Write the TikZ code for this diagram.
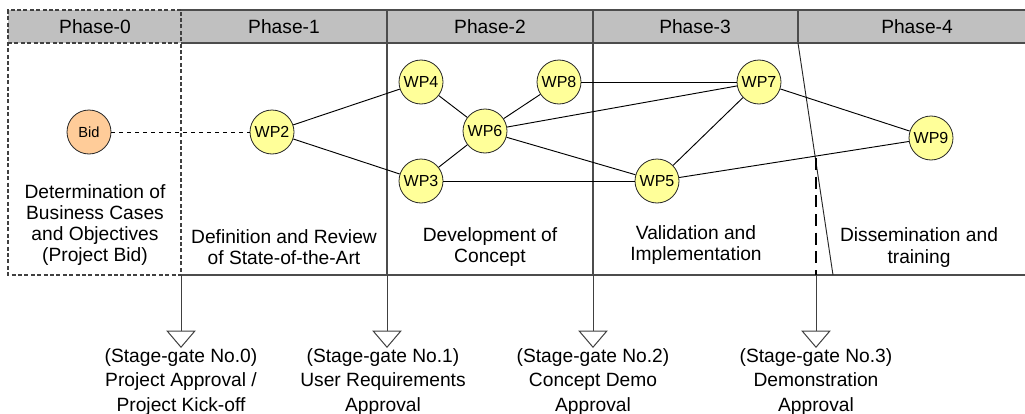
\documentclass[tikz,border=0pt]{standalone}
\usepackage{fontspec}
\setmainfont{Liberation Sans}
\usetikzlibrary{arrows.meta}
\definecolor{hdr}{HTML}{C0C0C0}
\definecolor{wpy}{HTML}{FFFF99}
\definecolor{bido}{HTML}{FFCC99}
\begin{document}
\begin{tikzpicture}[x=0.75pt,y=-0.75pt,
  wp/.style={circle,draw=black!85,line width=0.6pt,fill=wpy,minimum size=33pt,inner sep=0pt,font=\fontsize{12}{12}\selectfont},
  bidnode/.style={wp,fill=bido,font=\fontsize{11}{11}\selectfont},
  link/.style={draw=black,line width=0.7pt},
  lbl/.style={align=center,font=\fontsize{14.4}{15.8}\selectfont},
  gatelbl/.style={align=center,font=\fontsize{14.4}{18.5}\selectfont},
  ph/.style={font=\fontsize{14.4}{15}\selectfont},
  gate/.style={draw=black!75,line width=0.75pt,-{Triangle[open,width=22pt,length=13pt,fill=white]}},
  frame/.style={draw=black!70,line width=1pt},
  dframe/.style={draw=black!75,line width=0.8pt,dash pattern=on 3pt off 1.8pt}]
\useasboundingbox (0,0) rectangle (1025,414);
% header band
\fill[hdr] (8,10) rectangle (1025,43);
\draw[frame] (181,10) -- (1025,10);
\draw[frame] (181,43) -- (1025,43);
\draw[frame] (387,10) -- (387,43);
\draw[frame] (593,10) -- (593,43);
\draw[frame] (798,10) -- (798,43);
% phase-0 dashed box
\draw[dframe] (181,10) -- (8,10) -- (8,275) -- (181,275) -- cycle;
\draw[dframe] (8,43) -- (181,43);
% body bottom line and slanted line
\draw[frame,line width=0.8pt] (181,275) -- (1025,275);
\draw[draw=black!85,line width=0.7pt] (798,43) -- (833,275);
% phase titles
\node[ph] (p0) at (95,26.5) {Phase-0};
\node[ph] (p1) at (284,26.5) {Phase-1};
\node[ph] (p2) at (490,26.5) {Phase-2};
\node[ph] (p3) at (695,26.5) {Phase-3};
\node[ph] (p4) at (917,26.5) {Phase-4};
% phase descriptions
\node[lbl] (d0) at (95,225) {Determination of\\Business Cases\\and Objectives\\(Project Bid)};
\node[lbl] (d1) at (284,247.5) {Definition and Review\\of State-of-the-Art};
\node[lbl] (d2) at (490,247) {Development of\\Concept};
\node[lbl] (d3) at (696,245) {Validation and\\Implementation};
\node[lbl] (d4) at (919,247.5) {Dissemination and\\training};
% gates
\coordinate (g0a) at (181,275); \coordinate (g0b) at (181,348);
\coordinate (g1a) at (387,43);  \coordinate (g1b) at (387,348);
\coordinate (g2a) at (593,43);  \coordinate (g2b) at (593,348);
\coordinate (g3d) at (816,158); \coordinate (g3a) at (816,275); \coordinate (g3b) at (816,348);
\draw[frame,line width=0.8pt] (g1a) -- (387,275);
\draw[frame,line width=0.8pt] (g2a) -- (593,275);
\draw[gate] (g0a) -- (g0b);
\draw[gate] (387,275) -- (g1b);
\draw[gate] (593,275) -- (g2b);
\draw[draw=black,line width=1pt,dash pattern=on 9pt off 5pt] (g3d) -- (g3a);
\draw[gate] (g3a) -- (g3b);
\node[gatelbl] (s0) at (181,382) {(Stage-gate No.0)\\Project Approval /\\Project Kick-off};
\node[gatelbl] (s1) at (383,382) {(Stage-gate No.1)\\User Requirements\\Approval};
\node[gatelbl] (s2) at (593,382) {(Stage-gate No.2)\\Concept Demo\\Approval};
\node[gatelbl] (s3) at (816,382) {(Stage-gate No.3)\\Demonstration\\Approval};
% nodes
\node[bidnode] (bid) at (89,132) {Bid};
\node[wp] (wp2) at (272,132) {WP2};
\node[wp] (wp4) at (421,82) {WP4};
\node[wp] (wp3) at (421,181) {WP3};
\node[wp] (wp6) at (485,131) {WP6};
\node[wp] (wp8) at (559,82) {WP8};
\node[wp] (wp5) at (657,181) {WP5};
\node[wp] (wp7) at (759,82) {WP7};
\node[wp] (wp9) at (931,138) {WP9};
% edges
\draw[link,dashed] (bid) -- (wp2);
\draw[link] (wp2) -- (wp4);
\draw[link] (wp2) -- (wp3);
\draw[link] (wp4) -- (wp6);
\draw[link] (wp3) -- (wp6);
\draw[link] (wp6) -- (wp8);
\draw[link] (wp6) -- (wp7);
\draw[link] (wp6) -- (wp5);
\draw[link] (wp3) -- (wp5);
\draw[link] (wp8) -- (wp7);
\draw[link] (wp5) -- (wp7);
\draw[link] (wp7) -- (wp9);
\draw[link] (wp5) -- (wp9);
\end{tikzpicture}
\end{document}
